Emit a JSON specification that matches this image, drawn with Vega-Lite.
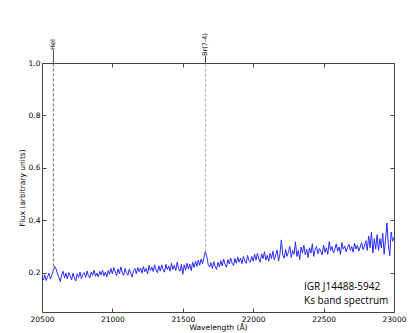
{
  "$schema": "https://vega.github.io/schema/vega-lite/v6.json",
  "width": 352,
  "height": 249,
  "autosize": {"type": "none"},
  "padding": {"left": 42, "top": 63, "right": 21, "bottom": 21},
  "config": {
    "view": {"stroke": null},
    "axis": {
      "domainColor": "#444",
      "domainWidth": 1,
      "tickColor": "#444",
      "tickSize": -4,
      "grid": false,
      "labelFont": "DejaVu Sans",
      "labelFontSize": 7.5,
      "labelColor": "#000",
      "titleFont": "DejaVu Sans",
      "titleFontSize": 7.5,
      "titleFontWeight": "normal",
      "titleColor": "#000",
      "labelFlush": false,
      "labelOverlap": false,
      "labelBound": false
    }
  },
  "datasets": {
    "spec": [
      {"w":20500,"f":0.180},{"w":20510,"f":0.172},{"w":20520,"f":0.192},{"w":20530,"f":0.170},{"w":20540,"f":0.186},{"w":20550,"f":0.198},{"w":20560,"f":0.176},{"w":20570,"f":0.190},{"w":20580,"f":0.208},{"w":20590,"f":0.224},
      {"w":20600,"f":0.214},{"w":20610,"f":0.195},{"w":20620,"f":0.182},{"w":20630,"f":0.166},{"w":20640,"f":0.192},{"w":20650,"f":0.205},{"w":20660,"f":0.180},{"w":20670,"f":0.198},{"w":20680,"f":0.176},{"w":20690,"f":0.200},
      {"w":20700,"f":0.190},{"w":20710,"f":0.172},{"w":20720,"f":0.198},{"w":20730,"f":0.180},{"w":20740,"f":0.168},{"w":20750,"f":0.196},{"w":20760,"f":0.182},{"w":20770,"f":0.202},{"w":20780,"f":0.178},{"w":20790,"f":0.194},
      {"w":20800,"f":0.200},{"w":20810,"f":0.182},{"w":20820,"f":0.206},{"w":20830,"f":0.188},{"w":20840,"f":0.180},{"w":20850,"f":0.203},{"w":20860,"f":0.190},{"w":20870,"f":0.210},{"w":20880,"f":0.186},{"w":20890,"f":0.198},
      {"w":20900,"f":0.184},{"w":20910,"f":0.205},{"w":20920,"f":0.192},{"w":20930,"f":0.210},{"w":20940,"f":0.188},{"w":20950,"f":0.202},{"w":20960,"f":0.184},{"w":20970,"f":0.208},{"w":20980,"f":0.194},{"w":20990,"f":0.216},
      {"w":21000,"f":0.195},{"w":21010,"f":0.220},{"w":21020,"f":0.204},{"w":21030,"f":0.188},{"w":21040,"f":0.214},{"w":21050,"f":0.196},{"w":21060,"f":0.222},{"w":21070,"f":0.200},{"w":21080,"f":0.190},{"w":21090,"f":0.216},
      {"w":21100,"f":0.200},{"w":21110,"f":0.190},{"w":21120,"f":0.214},{"w":21130,"f":0.198},{"w":21140,"f":0.184},{"w":21150,"f":0.208},{"w":21160,"f":0.216},{"w":21170,"f":0.196},{"w":21180,"f":0.220},{"w":21190,"f":0.204},
      {"w":21200,"f":0.218},{"w":21210,"f":0.198},{"w":21220,"f":0.224},{"w":21230,"f":0.204},{"w":21240,"f":0.216},{"w":21250,"f":0.196},{"w":21260,"f":0.228},{"w":21270,"f":0.208},{"w":21280,"f":0.222},{"w":21290,"f":0.204},
      {"w":21300,"f":0.230},{"w":21310,"f":0.210},{"w":21320,"f":0.200},{"w":21330,"f":0.226},{"w":21340,"f":0.206},{"w":21350,"f":0.230},{"w":21360,"f":0.212},{"w":21370,"f":0.202},{"w":21380,"f":0.232},{"w":21390,"f":0.212},
      {"w":21400,"f":0.226},{"w":21410,"f":0.206},{"w":21420,"f":0.236},{"w":21430,"f":0.212},{"w":21440,"f":0.228},{"w":21450,"f":0.208},{"w":21460,"f":0.240},{"w":21470,"f":0.216},{"w":21480,"f":0.206},{"w":21490,"f":0.232},
      {"w":21500,"f":0.194},{"w":21510,"f":0.230},{"w":21520,"f":0.210},{"w":21530,"f":0.236},{"w":21540,"f":0.214},{"w":21550,"f":0.232},{"w":21560,"f":0.208},{"w":21570,"f":0.240},{"w":21580,"f":0.220},{"w":21590,"f":0.244},
      {"w":21600,"f":0.224},{"w":21610,"f":0.248},{"w":21620,"f":0.228},{"w":21630,"f":0.252},{"w":21640,"f":0.234},{"w":21650,"f":0.258},{"w":21660,"f":0.280},{"w":21670,"f":0.264},{"w":21680,"f":0.232},{"w":21690,"f":0.222},
      {"w":21700,"f":0.238},{"w":21710,"f":0.216},{"w":21720,"f":0.242},{"w":21730,"f":0.224},{"w":21740,"f":0.212},{"w":21750,"f":0.240},{"w":21760,"f":0.222},{"w":21770,"f":0.246},{"w":21780,"f":0.226},{"w":21790,"f":0.252},
      {"w":21800,"f":0.232},{"w":21810,"f":0.220},{"w":21820,"f":0.250},{"w":21830,"f":0.234},{"w":21840,"f":0.256},{"w":21850,"f":0.236},{"w":21860,"f":0.228},{"w":21870,"f":0.254},{"w":21880,"f":0.236},{"w":21890,"f":0.260},
      {"w":21900,"f":0.240},{"w":21910,"f":0.256},{"w":21920,"f":0.234},{"w":21930,"f":0.262},{"w":21940,"f":0.244},{"w":21950,"f":0.236},{"w":21960,"f":0.266},{"w":21970,"f":0.246},{"w":21980,"f":0.240},{"w":21990,"f":0.262},
      {"w":22000,"f":0.244},{"w":22010,"f":0.270},{"w":22020,"f":0.248},{"w":22030,"f":0.274},{"w":22040,"f":0.252},{"w":22050,"f":0.240},{"w":22060,"f":0.272},{"w":22070,"f":0.254},{"w":22080,"f":0.280},{"w":22090,"f":0.248},
      {"w":22100,"f":0.266},{"w":22110,"f":0.244},{"w":22120,"f":0.274},{"w":22130,"f":0.254},{"w":22140,"f":0.282},{"w":22150,"f":0.248},{"w":22160,"f":0.268},{"w":22170,"f":0.286},{"w":22180,"f":0.244},{"w":22190,"f":0.272},
      {"w":22200,"f":0.325},{"w":22210,"f":0.268},{"w":22220,"f":0.255},{"w":22230,"f":0.290},{"w":22240,"f":0.262},{"w":22250,"f":0.278},{"w":22260,"f":0.300},{"w":22270,"f":0.258},{"w":22280,"f":0.285},{"w":22290,"f":0.270},
      {"w":22300,"f":0.318},{"w":22310,"f":0.262},{"w":22320,"f":0.285},{"w":22330,"f":0.250},{"w":22340,"f":0.298},{"w":22350,"f":0.275},{"w":22360,"f":0.305},{"w":22370,"f":0.268},{"w":22380,"f":0.290},{"w":22390,"f":0.258},
      {"w":22400,"f":0.295},{"w":22410,"f":0.275},{"w":22420,"f":0.310},{"w":22430,"f":0.262},{"w":22440,"f":0.288},{"w":22450,"f":0.300},{"w":22460,"f":0.272},{"w":22470,"f":0.292},{"w":22480,"f":0.282},{"w":22490,"f":0.268},
      {"w":22500,"f":0.305},{"w":22510,"f":0.278},{"w":22520,"f":0.295},{"w":22530,"f":0.270},{"w":22540,"f":0.318},{"w":22550,"f":0.285},{"w":22560,"f":0.300},{"w":22570,"f":0.275},{"w":22580,"f":0.290},{"w":22590,"f":0.310},
      {"w":22600,"f":0.282},{"w":22610,"f":0.298},{"w":22620,"f":0.270},{"w":22630,"f":0.315},{"w":22640,"f":0.290},{"w":22650,"f":0.302},{"w":22660,"f":0.280},{"w":22670,"f":0.296},{"w":22680,"f":0.308},{"w":22690,"f":0.285},
      {"w":22700,"f":0.300},{"w":22710,"f":0.278},{"w":22720,"f":0.312},{"w":22730,"f":0.290},{"w":22740,"f":0.305},{"w":22750,"f":0.282},{"w":22760,"f":0.298},{"w":22770,"f":0.315},{"w":22780,"f":0.288},{"w":22790,"f":0.302},
      {"w":22800,"f":0.322},{"w":22810,"f":0.285},{"w":22820,"f":0.340},{"w":22830,"f":0.295},{"w":22840,"f":0.355},{"w":22850,"f":0.275},{"w":22860,"f":0.330},{"w":22870,"f":0.290},{"w":22880,"f":0.345},{"w":22890,"f":0.285},
      {"w":22900,"f":0.330},{"w":22910,"f":0.295},{"w":22920,"f":0.350},{"w":22930,"f":0.270},{"w":22940,"f":0.328},{"w":22950,"f":0.390},{"w":22960,"f":0.305},{"w":22970,"f":0.265},{"w":22980,"f":0.355},{"w":22990,"f":0.320},
      {"w":23000,"f":0.335}
    ],
    "lines": [
      {"w": 20581, "f0": 0.224, "f1": 1.0, "ftop": 1.05, "label": "HeI", "c": "#444"},
      {"w": 21661, "f0": 0.280, "f1": 1.0, "ftop": 1.027, "label": "Br(7-4)", "c": "#999"}
    ],
    "notes": [
      {"w": 22361, "f": 0.145, "t": "IGR J14488-5942"},
      {"w": 22361, "f": 0.092, "t": "Ks band spectrum"}
    ]
  },
  "resolve": {"axis": {"x": "independent", "y": "independent"}},
  "layer": [
    {
      "data": {"name": "spec"},
      "mark": {"type": "line", "color": "#2a2aff", "strokeWidth": 1, "interpolate": "linear"},
      "encoding": {
        "x": {"field": "w", "type": "quantitative",
              "scale": {"domain": [20500, 23000], "nice": false, "zero": false},
              "axis": {"orient": "bottom", "title": "Wavelength (Å)", "values": [20500, 21000, 21500, 22000, 22500, 23000], "format": "d", "labelPadding": 7, "titlePadding": 1}},
        "y": {"field": "f", "type": "quantitative",
              "scale": {"domain": [0.05, 1.0], "nice": false, "zero": false},
              "axis": {"orient": "left", "title": "Flux (arbitrary units)", "values": [0.2, 0.4, 0.6, 0.8, 1.0], "format": ".1f", "labelPadding": 6, "titlePadding": 2}}
      }
    },
    {
      "data": {"name": "lines"},
      "mark": {"type": "rule", "strokeDash": [3, 2], "strokeWidth": 0.8},
      "encoding": {
        "x": {"field": "w", "type": "quantitative", "axis": null},
        "y": {"field": "f0", "type": "quantitative", "axis": null},
        "y2": {"field": "f1"},
        "color": {"field": "c", "type": "nominal", "scale": null}
      }
    },
    {
      "data": {"name": "lines"},
      "mark": {"type": "rule", "strokeWidth": 1, "color": "#444"},
      "encoding": {
        "x": {"field": "w", "type": "quantitative",
              "axis": {"orient": "top", "labels": false, "title": null, "values": [20500, 21000, 21500, 22000, 22500, 23000]}},
        "y": {"field": "f1", "type": "quantitative",
              "axis": {"orient": "right", "labels": false, "title": null, "values": [0.2, 0.4, 0.6, 0.8, 1.0]}},
        "y2": {"field": "ftop"}
      }
    },
    {
      "data": {"name": "lines"},
      "mark": {"type": "text", "angle": -90, "align": "left", "baseline": "middle", "font": "DejaVu Sans", "fontSize": 6.5, "color": "#000"},
      "encoding": {
        "x": {"field": "w", "type": "quantitative", "axis": null},
        "y": {"field": "ftop", "type": "quantitative", "axis": null},
        "text": {"field": "label"}
      }
    },
    {
      "data": {"name": "notes"},
      "mark": {"type": "text", "align": "left", "baseline": "middle", "font": "Open Sans", "fontSize": 10, "color": "#000"},
      "encoding": {
        "x": {"field": "w", "type": "quantitative", "axis": null},
        "y": {"field": "f", "type": "quantitative", "axis": null},
        "text": {"field": "t"}
      }
    }
  ]
}
